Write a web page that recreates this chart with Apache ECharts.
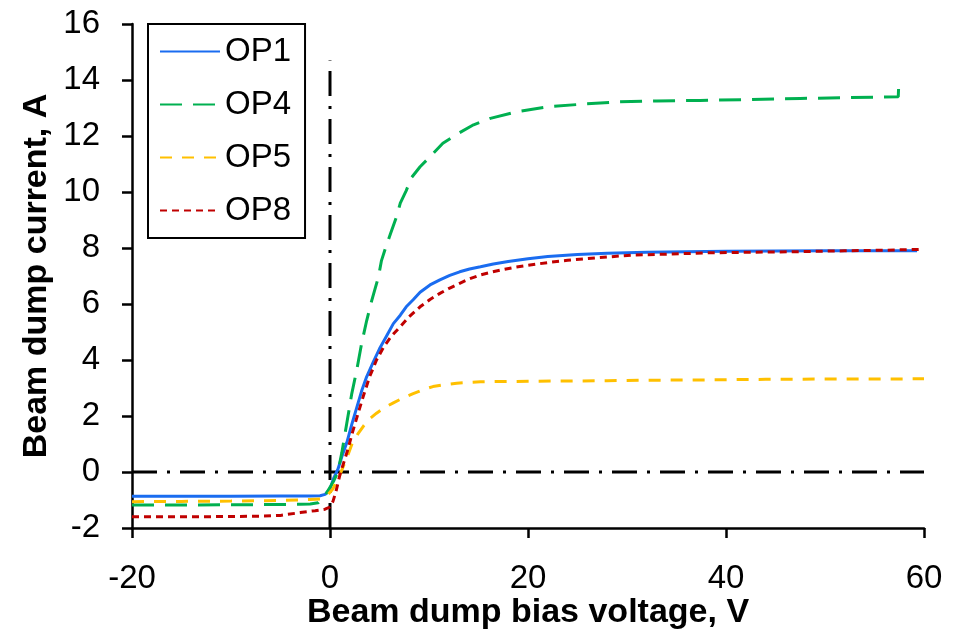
<!DOCTYPE html>
<html>
<head>
<meta charset="utf-8">
<script src="https://cdn.jsdelivr.net/npm/echarts@6/dist/echarts.min.js"></script>
<style>
html,body{margin:0;padding:0;background:#fff;}
#chart{width:956px;height:630px;}
</style>
</head>
<body>
<div id="chart"></div>
<script>
// ---- data ----
const xTicks = [-20, 0, 20, 40, 60];
const yTicks = [-2, 0, 2, 4, 6, 8, 10, 12, 14, 16];
const seriesNames = ['OP1', 'OP4', 'OP5', 'OP8'];

const op1Voltage = [-20, -15, -10, -5, -2, -1, -0.5, 0, 0.4, 0.8, 1.2, 1.7, 2.2, 2.7, 3.2, 3.7, 4.4, 5.0, 5.7, 6.4, 7.1, 7.7, 8.4, 9.1, 10.1, 11.1, 12.1, 13.1, 14.1, 15.2, 16.5, 18, 20, 22, 25, 28, 32, 36, 40, 45, 50, 55, 59.3];
const op1Current = [-0.87, -0.87, -0.87, -0.86, -0.86, -0.85, -0.8, -0.6, -0.2, 0.1, 0.55, 1.05, 1.7, 2.3, 2.9, 3.4, 3.95, 4.4, 4.85, 5.3, 5.6, 5.9, 6.15, 6.42, 6.68, 6.86, 7.02, 7.15, 7.25, 7.33, 7.43, 7.52, 7.62, 7.7, 7.77, 7.81, 7.85, 7.87, 7.88, 7.89, 7.9, 7.9, 7.9];

const op4Voltage = [-20, -15, -10, -5, -3, -2, -1.2, -0.6, 0, 0.4, 0.8, 1.2, 1.7, 2.2, 2.7, 3.2, 3.7, 4.2, 4.6, 4.9, 5.2, 5.7, 6.1, 6.7, 7.1, 7.7, 8.2, 9.1, 10.1, 11.4, 13, 14.5, 16.2, 18.9, 22.2, 25.6, 29.3, 33, 37.4, 42, 47.5, 52, 57.4, 57.45];
const op4Current = [-1.18, -1.18, -1.17, -1.16, -1.15, -1.14, -1.1, -0.9, -0.55, -0.3, 0.0, 0.7, 1.75, 2.8, 3.64, 4.6, 5.4, 6.1, 6.6, 6.98, 7.55, 8.1, 8.5, 9.1, 9.6, 10.05, 10.5, 10.9, 11.26, 11.74, 12.1, 12.4, 12.63, 12.87, 13.05, 13.14, 13.22, 13.25, 13.27, 13.3, 13.34, 13.37, 13.4, 13.86];

const op5Voltage = [-20, -15, -10, -5, -2, -1, -0.3, 0.3, 0.7, 1.0, 1.4, 1.8, 2.2, 2.8, 3.4, 4.0, 4.7, 5.5, 6.4, 7.4, 8.4, 9.4, 10.4, 11.6, 12.8, 14, 15.2, 17, 20, 24, 28, 33, 38, 44, 50, 55, 60];
const op5Current = [-1.06, -1.05, -1.04, -1.02, -0.98, -0.96, -0.85, -0.6, -0.3, -0.1, 0.25, 0.6, 0.98, 1.35, 1.65, 1.9, 2.1, 2.3, 2.47, 2.65, 2.8, 2.94, 3.05, 3.12, 3.17, 3.2, 3.22, 3.23, 3.24, 3.25, 3.26, 3.28, 3.29, 3.31, 3.32, 3.32, 3.33];

const op8Voltage = [-20, -15, -10, -7, -5, -3, -1.5, -0.5, 0, 0.3, 0.6, 1.0, 1.4, 1.8, 2.3, 2.8, 3.4, 4.0, 4.7, 5.4, 6.2, 7.1, 8.0, 9.1, 10.1, 11.1, 12.1, 13.1, 14.1, 15.2, 16.2, 17.2, 18.5, 20, 22, 24, 27, 30.6, 34, 38.4, 43, 47.5, 52, 56, 59.5];
const op8Current = [-1.6, -1.6, -1.59, -1.58, -1.55, -1.45, -1.38, -1.33, -1.25, -1.05, -0.7, -0.1, 0.35, 0.8, 1.45, 2.05, 2.75, 3.4, 4.0, 4.45, 4.85, 5.19, 5.55, 5.9, 6.16, 6.38, 6.57, 6.74, 6.9, 7.04, 7.13, 7.21, 7.3, 7.38, 7.48, 7.56, 7.65, 7.75, 7.78, 7.83, 7.85, 7.87, 7.9, 7.92, 7.95];

// reference lines
const zeroVoltageLine = [[0, -2], [0, 14.7]];
const zeroCurrentLine = [[-20, 0], [60, 0]];

const colors = {OP1: '#1a6cf0', OP4: '#00b050', OP5: '#ffc000', OP8: '#c00000'};

function pairs(xs, ys) { return xs.map((x, i) => [x, ys[i]]); }

const FONT = '"Liberation Sans", Arial, sans-serif';
const chart = echarts.init(document.getElementById('chart'), null, {renderer: 'canvas'});

const refStyle = {color: '#000', width: 3, type: [25, 10, 3, 10]};

chart.setOption({
  animation: false,
  backgroundColor: '#fff',
  grid: {left: 132, right: 32, top: 24, bottom: 102, containLabel: false, outerBoundsMode: 'none'},
  legend: {
    data: seriesNames,
    orient: 'vertical',
    left: 148,
    top: 24,
    borderColor: '#000',
    borderWidth: 2,
    padding: [11, 14, 11, 11],
    itemGap: 20,
    itemWidth: 60,
    itemHeight: 14,
    itemStyle: {opacity: 0},
    textStyle: {fontFamily: FONT, fontSize: 33, lineHeight: 33, color: '#000'}
  },
  xAxis: {
    type: 'value',
    min: xTicks[0], max: xTicks[xTicks.length - 1], interval: 20,
    name: 'Beam dump bias voltage, V',
    nameLocation: 'middle',
    nameGap: 68,
    nameMoveOverlap: false,
    nameTextStyle: {fontFamily: FONT, fontSize: 34, fontWeight: 'bold', color: '#000'},
    axisLine: {onZero: false, lineStyle: {color: '#000', width: 2.5}},
    axisTick: {show: true, inside: false, length: 10, lineStyle: {color: '#000', width: 2.5}},
    axisLabel: {fontFamily: FONT, fontSize: 33, color: '#000', margin: 34},
    splitLine: {show: false}
  },
  yAxis: {
    type: 'value',
    min: yTicks[0], max: yTicks[yTicks.length - 1], interval: 2,
    name: 'Beam dump current, A',
    nameLocation: 'middle',
    nameGap: 78,
    nameMoveOverlap: false,
    nameTextStyle: {fontFamily: FONT, fontSize: 34, fontWeight: 'bold', color: '#000'},
    axisLine: {show: true, onZero: false, lineStyle: {color: '#000', width: 2.5}},
    axisTick: {show: true, inside: false, length: 10, lineStyle: {color: '#000', width: 2.5}},
    axisLabel: {fontFamily: FONT, fontSize: 33, color: '#000', margin: 32},
    splitLine: {show: false}
  },
  series: [
    {name: 'ref-v', type: 'line', data: zeroVoltageLine, symbol: 'none', silent: true, lineStyle: refStyle, z: 1},
    {name: 'ref-h', type: 'line', data: zeroCurrentLine, symbol: 'none', silent: true, lineStyle: refStyle, z: 1},
    {name: 'OP1', type: 'line', data: pairs(op1Voltage, op1Current), symbol: 'none', color: colors.OP1,
      lineStyle: {color: colors.OP1, width: 3, type: 'solid'}, z: 3},
    {name: 'OP4', type: 'line', data: pairs(op4Voltage, op4Current), symbol: 'none', color: colors.OP4,
      lineStyle: {color: colors.OP4, width: 3, type: [22, 11]}, z: 3},
    {name: 'OP5', type: 'line', data: pairs(op5Voltage, op5Current), symbol: 'none', color: colors.OP5,
      lineStyle: {color: colors.OP5, width: 3, type: [12, 10]}, z: 3},
    {name: 'OP8', type: 'line', data: pairs(op8Voltage, op8Current), symbol: 'none', color: colors.OP8,
      lineStyle: {color: colors.OP8, width: 3, type: [7, 5]}, z: 3}
  ]
});
</script>
</body>
</html>
